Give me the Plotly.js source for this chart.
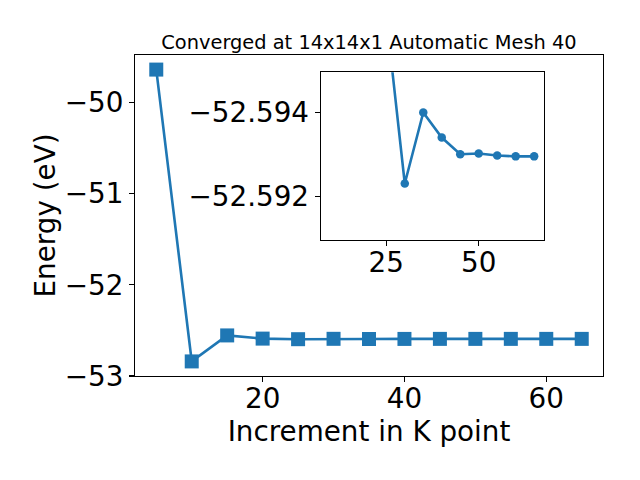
<!DOCTYPE html>
<html>
<head>
<meta charset="utf-8">
<script src="https://cdn.plot.ly/plotly-3.0.1.min.js"></script>
<style>html,body{margin:0;padding:0;background:#fff;}#chart{width:640px;height:480px;}</style>
</head>
<body>
<div id="chart"></div>
<script>
const kpoints = [5, 10, 15, 20, 25, 30, 35, 40, 45, 50, 55, 60, 65];
const energies = [-49.64, -52.84, -52.555, -52.59, -52.5963, -52.5923, -52.5940, -52.5934, -52.59300, -52.59302, -52.59297, -52.59295, -52.59295];
const insetStart = 4;
const insetK = kpoints.slice(insetStart);
const insetE = energies.slice(insetStart);
const mainYTicks = [-50, -51, -52, -53];
const mainXTicks = [20, 40, 60];
const insetXTicks = [25, 50];
const insetYTicks = [-52.594, -52.592];

const color = '#1f77b4';
const font = {family: 'DejaVu Sans', size: 27.8, color: '#000'};

const traces = [
  {x: kpoints, y: energies, type: 'scatter', mode: 'lines+markers',
   line: {color: color, width: 2.6}, marker: {symbol: 'square', size: 14, color: color},
   xaxis: 'x', yaxis: 'y', showlegend: false},
  {x: insetK, y: insetE, type: 'scatter', mode: 'lines+markers',
   line: {color: color, width: 2.6}, marker: {symbol: 'circle', size: 8.5, color: color},
   xaxis: 'x2', yaxis: 'y2', showlegend: false}
];

const axCommon = {showline: true, mirror: true, linecolor: '#000', linewidth: 1.1,
  ticks: 'outside', ticklen: 5, tickwidth: 1.1, tickcolor: '#000',
  showgrid: false, zeroline: false, tickfont: font};

const layout = {
  width: 640, height: 480,
  margin: {l: 135, r: 37, t: 55, b: 104},
  paper_bgcolor: '#fff', plot_bgcolor: '#fff',
  font: font,
  title: {text: 'Converged at 14x14x1 Automatic Mesh 40', font: {family: 'DejaVu Sans', size: 19.4, color: '#000'},
          x: 0.5, xref: 'paper', xanchor: 'center', y: 1 - 42/480, yref: 'container', yanchor: 'middle'},
  xaxis: Object.assign({}, axCommon, {domain: [0, 1], range: [2, 68], tickvals: mainXTicks, ticklabelstandoff: -7,
    title: {text: 'Increment in K point', font: font, standoff: 7}, anchor: 'y'}),
  yaxis: Object.assign({}, axCommon, {domain: [0, 1], range: [-53.0, -49.48], tickvals: mainYTicks,
    title: {text: 'Energy (eV)', font: font, standoff: 0}, anchor: 'x'}),
  xaxis2: Object.assign({}, axCommon, {domain: [0.3968, 0.8746], range: [7.25, 67.75], tickvals: insetXTicks, ticklabelstandoff: -7, anchor: 'y2'}),
  yaxis2: Object.assign({}, axCommon, {domain: [0.4237, 0.946], range: [-52.59095, -52.59496], tickvals: insetYTicks,
    tickformat: '.3f', anchor: 'x2'})
};

Plotly.newPlot('chart', traces, layout, {displayModeBar: false, staticPlot: true});
</script>
</body>
</html>
